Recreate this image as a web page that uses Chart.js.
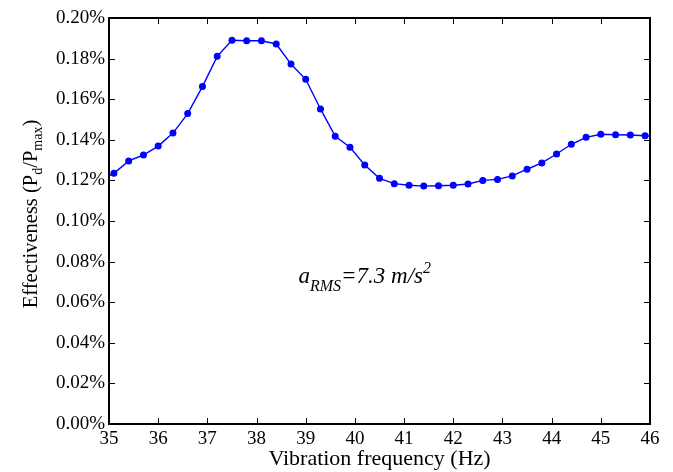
<!DOCTYPE html>
<html lang="en">
<head>
    <meta charset="UTF-8">
    <title>Effectiveness vs Vibration frequency</title>
    <script src="https://cdn.jsdelivr.net/npm/chart.js"></script>
    <style>
        html, body { margin: 0; padding: 0; background: #fff; }
        #wrap { width: 673px; height: 472px; }
    </style>
</head>
<body>
    <div id="wrap"><canvas id="effChart" width="673" height="472"></canvas></div>

    <script>
        // Data (frequency in Hz, effectiveness in %)
        const freqs = [34.8, 35.1, 35.4, 35.7, 36.0, 36.3, 36.6, 36.9, 37.2, 37.5, 37.8,
                       38.1, 38.4, 38.7, 39.0, 39.3, 39.6, 39.9, 40.2, 40.5, 40.8,
                       41.1, 41.4, 41.7, 42.0, 42.3, 42.6, 42.9, 43.2, 43.5, 43.8,
                       44.1, 44.4, 44.7, 45.0, 45.3, 45.6, 45.9, 46.2];
        const effectiveness = [0.1200, 0.1235, 0.1296, 0.1325, 0.1369, 0.1433, 0.1529, 0.1662, 0.1811, 0.1890, 0.1888,
                               0.1888, 0.1872, 0.1773, 0.1698, 0.1552, 0.1417, 0.1363, 0.1276, 0.1210, 0.1184,
                               0.1176, 0.1172, 0.1174, 0.1176, 0.1182, 0.1200, 0.1205, 0.1222, 0.1255, 0.1286,
                               0.1330, 0.1378, 0.1412, 0.1427, 0.1425, 0.1424, 0.1420, 0.1416];
        const xTicks = [35, 36, 37, 38, 39, 40, 41, 42, 43, 44, 45, 46];
        const yTicks = [0, 0.02, 0.04, 0.06, 0.08, 0.10, 0.12, 0.14, 0.16, 0.18, 0.20];

        const FONT = '"Liberation Serif", "DejaVu Serif", serif';

        // write a run of [text, size, yOffset] pieces starting at x
        function drawPieces(ctx, pieces, style, cx, y) {
            let total = 0;
            pieces.forEach(p => { ctx.font = style + p[1] + 'px ' + FONT; total += ctx.measureText(p[0]).width; });
            let x = cx - total / 2;
            pieces.forEach(p => {
                ctx.font = style + p[1] + 'px ' + FONT;
                ctx.fillText(p[0], x, y + p[2]);
                x += ctx.measureText(p[0]).width;
            });
        }

        // box around the plot + inward tick marks on all four sides
        const boxTicks = {
            id: 'boxTicks',
            afterDraw(chart) {
                const { ctx, chartArea: a, scales } = chart;
                ctx.save();
                ctx.strokeStyle = '#000';
                ctx.lineWidth = 1;
                const len = 6;
                ctx.beginPath();
                xTicks.forEach(v => {
                    const px = Math.round(scales.x.getPixelForValue(v)) + 0.5;
                    ctx.moveTo(px, a.bottom); ctx.lineTo(px, a.bottom - len);
                    ctx.moveTo(px, a.top); ctx.lineTo(px, a.top + len);
                });
                yTicks.forEach(v => {
                    const py = Math.round(scales.y.getPixelForValue(v)) + 0.5;
                    ctx.moveTo(a.left, py); ctx.lineTo(a.left + len, py);
                    ctx.moveTo(a.right, py); ctx.lineTo(a.right - len, py);
                });
                ctx.stroke();
                ctx.lineWidth = 2;
                ctx.strokeRect(a.left, a.top, a.right - a.left, a.bottom - a.top);

                // y axis title with subscripts
                ctx.fillStyle = '#000';
                ctx.textBaseline = 'alphabetic';
                ctx.translate(37, 214);
                ctx.rotate(-Math.PI / 2);
                drawPieces(ctx, [
                    ['Effectiveness (P', 20.5, 0], ['d', 14, 5], ['/P', 20.5, 0], ['max', 14, 5], [')', 20.5, 0]
                ], '', 0, 0);
                ctx.restore();

                // annotation a_RMS = 7.3 m/s^2
                ctx.save();
                ctx.fillStyle = '#000';
                const ax = scales.x.getPixelForValue(40.2);
                const ay = scales.y.getPixelForValue(0.0695);
                drawPieces(ctx, [
                    ['a', 23, 0], ['RMS', 16, 8], ['=7.3 m/s', 23, 0], ['2', 16, -10]
                ], 'italic ', ax, ay);
                ctx.restore();
            }
        };

        const ctx = document.getElementById('effChart').getContext('2d');
        new Chart(ctx, {
            type: 'line',
            data: {
                datasets: [{
                    data: freqs.map((f, i) => ({ x: f, y: effectiveness[i] })),
                    borderColor: '#0000ff',
                    backgroundColor: '#0000ff',
                    borderWidth: 1.4,
                    pointRadius: 2.8,
                    pointHoverRadius: 2.8,
                    tension: 0,
                    clip: 0
                }]
            },
            options: {
                responsive: false,
                animation: false,
                events: [],
                layout: { padding: { top: 18, right: 23, left: 0, bottom: 0 } },
                plugins: { legend: { display: false }, tooltip: { enabled: false } },
                scales: {
                    x: {
                        type: 'linear',
                        min: 35, max: 46,
                        afterFit: s => { s.height = 48; },
                        afterBuildTicks: s => { s.ticks = xTicks.map(v => ({ value: v })); },
                        grid: { display: false, drawTicks: false },
                        border: { display: false },
                        ticks: {
                            color: '#000', padding: 4,
                            font: { family: FONT, size: 19 },
                            maxRotation: 0
                        },
                        title: {
                            display: true, text: 'Vibration frequency (Hz)', color: '#000',
                            font: { family: FONT, size: 22 }, padding: { top: 0, bottom: 0 }
                        }
                    },
                    y: {
                        min: 0, max: 0.2,
                        afterFit: s => { s.width = 109; },
                        afterBuildTicks: s => { s.ticks = yTicks.map(v => ({ value: v })); },
                        grid: { display: false, drawTicks: false },
                        border: { display: false },
                        ticks: {
                            color: '#000', padding: 4,
                            font: { family: FONT, size: 19 },
                            callback: v => v.toFixed(2) + '%'
                        }
                    }
                }
            },
            plugins: [boxTicks]
        });
    </script>
</body>
</html>
